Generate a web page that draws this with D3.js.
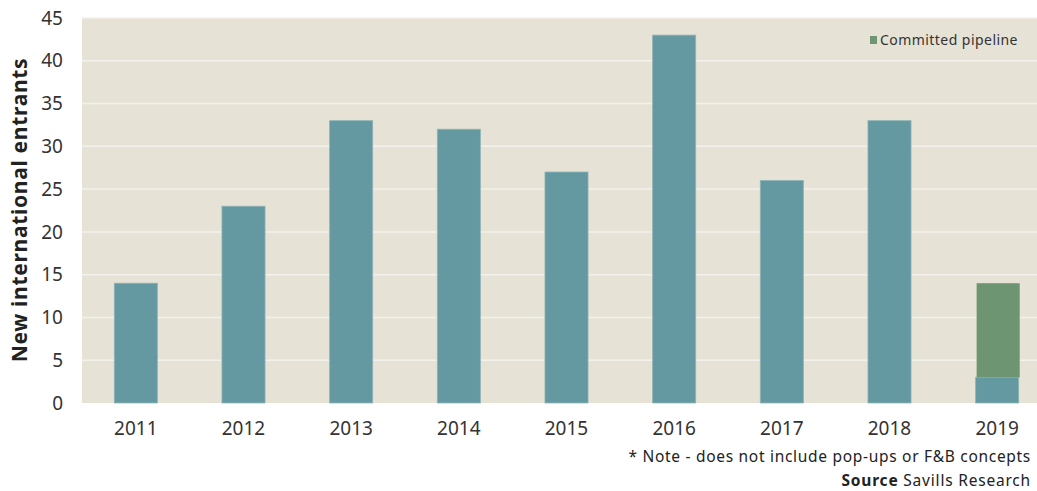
<!DOCTYPE html>
<html>
<head>
<meta charset="utf-8">
<script src="https://cdn.jsdelivr.net/npm/d3@7"></script>
<style>
  body { margin: 0; background: #fff; }
  svg { display: block; font-family: "Noto Sans", "Open Sans", sans-serif; }
</style>
</head>
<body>
<div id="chart"></div>
<script>
const years = ["2011", "2012", "2013", "2014", "2015", "2016", "2017", "2018", "2019"];
const entrants = [14, 23, 33, 32, 27, 43, 26, 33, 3];
const committed = [0, 0, 0, 0, 0, 0, 0, 0, 11];
const yTicks = [0, 5, 10, 15, 20, 25, 30, 35, 40, 45];

const width = 1037,
      height = 491,
      margin = { top: 18, right: -14, bottom: 88, left: 82 };

const svg = d3.select("#chart").append("svg")
    .attr("width", width)
    .attr("height", height);

const x = d3.scaleBand()
    .domain(years)
    .range([margin.left, width - margin.right])
    .paddingInner(0.6)
    .paddingOuter(0.3);

const y = d3.scaleLinear()
    .domain([0, 45])
    .range([height - margin.bottom, margin.top]);

// plot background
svg.append("rect")
    .attr("x", margin.left)
    .attr("y", margin.top)
    .attr("width", width - margin.right - margin.left)
    .attr("height", y(0) - margin.top)
    .attr("fill", "#e6e2d6");

// gridlines
svg.append("g")
    .selectAll("line")
    .data(yTicks.filter(d => d > 0))
    .join("line")
    .attr("x1", margin.left)
    .attr("x2", width - margin.right)
    .attr("y1", d => y(d))
    .attr("y2", d => y(d))
    .attr("stroke", "#f3f1ec")
    .attr("stroke-width", 1.5);

// y tick labels
svg.append("g")
    .selectAll("text")
    .data(yTicks)
    .join("text")
    .attr("x", 63)
    .attr("y", d => y(d))
    .attr("dy", "0.35em")
    .attr("text-anchor", "end")
    .attr("font-size", 19)
    .attr("fill", "#333")
    .text(d => d);

// bars - entrants
svg.append("g")
    .selectAll("rect")
    .data(years)
    .join("rect")
    .attr("x", d => x(d))
    .attr("width", x.bandwidth())
    .attr("y", (d, i) => y(entrants[i]))
    .attr("height", (d, i) => y(0) - y(entrants[i]))
    .attr("fill", "#6499a2")
    .attr("stroke", "#8fb3b6")
    .attr("stroke-width", 0.8);

// bars - committed pipeline (stacked)
svg.append("g")
    .selectAll("rect")
    .data(years.filter((d, i) => committed[i] > 0))
    .join("rect")
    .attr("x", d => x(d) + 1)
    .attr("width", x.bandwidth())
    .attr("y", d => { const i = years.indexOf(d); return y(entrants[i] + committed[i]); })
    .attr("height", d => { const i = years.indexOf(d); return y(entrants[i]) - y(entrants[i] + committed[i]); })
    .attr("fill", "#6e9571");

// x labels
svg.append("g")
    .selectAll("text")
    .data(years)
    .join("text")
    .attr("x", d => x(d) + x.bandwidth() / 2)
    .attr("y", 435)
    .attr("text-anchor", "middle")
    .attr("font-size", 19)
    .attr("fill", "#333")
    .text(d => d);

// y axis title
svg.append("text")
    .attr("transform", `translate(27,210) rotate(-90)`)
    .attr("text-anchor", "middle")
    .attr("font-size", 21)
    .attr("font-weight", "bold")
    .attr("letter-spacing", 0.7)
    .attr("fill", "#222")
    .text("New international entrants");

// legend
svg.append("rect")
    .attr("x", 870)
    .attr("y", 36)
    .attr("width", 7)
    .attr("height", 8)
    .attr("fill", "#6e9571");
svg.append("text")
    .attr("x", 880)
    .attr("y", 45)
    .attr("font-size", 14)
    .attr("letter-spacing", 0.45)
    .attr("fill", "#333")
    .text("Committed pipeline");

// notes
svg.append("text")
    .attr("x", 1031)
    .attr("y", 462)
    .attr("text-anchor", "end")
    .attr("font-size", 15.5)
    .attr("letter-spacing", 0.7)
    .attr("fill", "#222")
    .text("* Note - does not include pop-ups or F&B concepts");

const src = svg.append("text")
    .attr("x", 1031)
    .attr("y", 486)
    .attr("text-anchor", "end")
    .attr("font-size", 15.5)
    .attr("letter-spacing", 0.8)
    .attr("fill", "#222");
src.append("tspan").attr("font-weight", "bold").text("Source");
src.append("tspan").text(" Savills Research");
</script>
</body>
</html>
